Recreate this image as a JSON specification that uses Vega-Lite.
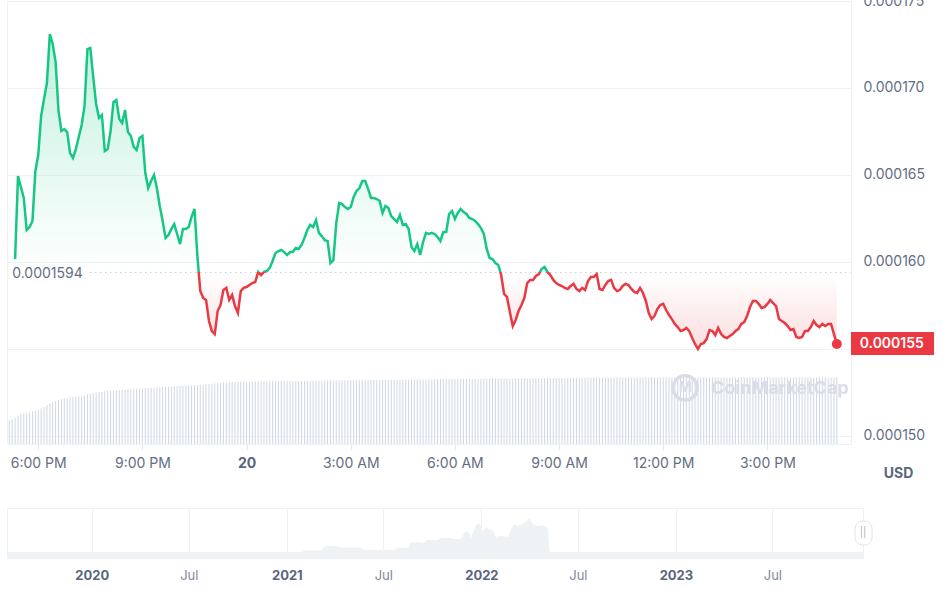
{
  "$schema": "https://vega.github.io/schema/vega-lite/v6.json",
  "background": "white",
  "padding": {"left": 6, "top": -7, "right": 0, "bottom": 0},
  "spacing": 64,
  "bounds": "flush",
  "config": {
    "font": "Inter",
    "view": {"stroke": "#eff2f5"},
    "axis": {"labelFont": "Inter", "titleFont": "Inter", "labelColor": "#616e85", "labelFontSize": 14, "gridColor": "#eff2f5"}
  },
  "datasets": {
    "price": [
      {"t":"2023-11-19T17:10:00Z","v":23.7},
      {"t":"2023-11-19T17:15:00Z","v":24.9},
      {"t":"2023-11-19T17:20:00Z","p":0.00016017,"v":26.2},
      {"t":"2023-11-19T17:25:00Z","p":0.00016494,"v":28.1},
      {"t":"2023-11-19T17:30:00Z","p":0.00016431,"v":30.0},
      {"t":"2023-11-19T17:35:00Z","p":0.00016368,"v":30.6},
      {"t":"2023-11-19T17:40:00Z","p":0.00016184,"v":31.1},
      {"t":"2023-11-19T17:45:00Z","p":0.00016201,"v":31.7},
      {"t":"2023-11-19T17:50:00Z","p":0.00016236,"v":32.5},
      {"t":"2023-11-19T17:55:00Z","p":0.00016523,"v":33.3},
      {"t":"2023-11-19T18:00:00Z","p":0.00016615,"v":34.3},
      {"t":"2023-11-19T18:05:00Z","p":0.00016839,"v":35.6},
      {"t":"2023-11-19T18:10:00Z","p":0.00016937,"v":36.9},
      {"t":"2023-11-19T18:15:00Z","p":0.00017029,"v":38.7},
      {"t":"2023-11-19T18:20:00Z","p":0.00017310,"v":40.6},
      {"t":"2023-11-19T18:25:00Z","p":0.00017253,"v":41.9},
      {"t":"2023-11-19T18:30:00Z","p":0.00017149,"v":42.9},
      {"t":"2023-11-19T18:35:00Z","p":0.00016868,"v":43.9},
      {"t":"2023-11-19T18:40:00Z","p":0.00016753,"v":44.8},
      {"t":"2023-11-19T18:45:00Z","p":0.00016764,"v":45.5},
      {"t":"2023-11-19T18:50:00Z","p":0.00016747,"v":46.1},
      {"t":"2023-11-19T18:55:00Z","p":0.00016626,"v":46.8},
      {"t":"2023-11-19T19:00:00Z","p":0.00016598,"v":47.2},
      {"t":"2023-11-19T19:05:00Z","p":0.00016649,"v":47.4},
      {"t":"2023-11-19T19:10:00Z","p":0.00016718,"v":47.6},
      {"t":"2023-11-19T19:15:00Z","p":0.00016787,"v":47.8},
      {"t":"2023-11-19T19:20:00Z","p":0.00016897,"v":48.3},
      {"t":"2023-11-19T19:25:00Z","p":0.00017224,"v":49.6},
      {"t":"2023-11-19T19:30:00Z","p":0.00017230,"v":50.5},
      {"t":"2023-11-19T19:35:00Z","p":0.00017063,"v":51.0},
      {"t":"2023-11-19T19:40:00Z","p":0.00016908,"v":51.5},
      {"t":"2023-11-19T19:45:00Z","p":0.00016828,"v":52.0},
      {"t":"2023-11-19T19:50:00Z","p":0.00016845,"v":52.4},
      {"t":"2023-11-19T19:55:00Z","p":0.00016638,"v":52.6},
      {"t":"2023-11-19T20:00:00Z","p":0.00016649,"v":52.9},
      {"t":"2023-11-19T20:05:00Z","p":0.00016753,"v":53.1},
      {"t":"2023-11-19T20:10:00Z","p":0.00016920,"v":53.3},
      {"t":"2023-11-19T20:15:00Z","p":0.00016931,"v":53.6},
      {"t":"2023-11-19T20:20:00Z","p":0.00016822,"v":53.8},
      {"t":"2023-11-19T20:25:00Z","p":0.00016799,"v":54.0},
      {"t":"2023-11-19T20:30:00Z","p":0.00016874,"v":54.1},
      {"t":"2023-11-19T20:35:00Z","p":0.00016747,"v":54.3},
      {"t":"2023-11-19T20:40:00Z","p":0.00016724,"v":54.5},
      {"t":"2023-11-19T20:45:00Z","p":0.00016661,"v":54.7},
      {"t":"2023-11-19T20:50:00Z","p":0.00016644,"v":54.9},
      {"t":"2023-11-19T20:55:00Z","p":0.00016713,"v":55.2},
      {"t":"2023-11-19T21:00:00Z","p":0.00016724,"v":55.5},
      {"t":"2023-11-19T21:05:00Z","p":0.00016511,"v":55.7},
      {"t":"2023-11-19T21:10:00Z","p":0.00016425,"v":56.0},
      {"t":"2023-11-19T21:15:00Z","p":0.00016466,"v":56.3},
      {"t":"2023-11-19T21:20:00Z","p":0.00016500,"v":56.5},
      {"t":"2023-11-19T21:25:00Z","p":0.00016425,"v":56.6},
      {"t":"2023-11-19T21:30:00Z","p":0.00016322,"v":56.8},
      {"t":"2023-11-19T21:35:00Z","p":0.00016236,"v":57.0},
      {"t":"2023-11-19T21:40:00Z","p":0.00016138,"v":57.2},
      {"t":"2023-11-19T21:45:00Z","p":0.00016155,"v":57.3},
      {"t":"2023-11-19T21:50:00Z","p":0.00016190,"v":57.5},
      {"t":"2023-11-19T21:55:00Z","p":0.00016218,"v":57.7},
      {"t":"2023-11-19T22:00:00Z","p":0.00016161,"v":57.9},
      {"t":"2023-11-19T22:05:00Z","p":0.00016103,"v":58.1},
      {"t":"2023-11-19T22:10:00Z","p":0.00016190,"v":58.2},
      {"t":"2023-11-19T22:15:00Z","p":0.00016190,"v":58.4},
      {"t":"2023-11-19T22:20:00Z","p":0.00016201,"v":58.5},
      {"t":"2023-11-19T22:25:00Z","p":0.00016259,"v":58.6},
      {"t":"2023-11-19T22:30:00Z","p":0.00016305,"v":58.7},
      {"t":"2023-11-19T22:35:00Z","p":0.00016034,"v":58.9},
      {"t":"2023-11-19T22:40:00Z","p":0.00015833,"v":59.0},
      {"t":"2023-11-19T22:45:00Z","p":0.00015793,"v":59.2},
      {"t":"2023-11-19T22:50:00Z","p":0.00015782,"v":59.5},
      {"t":"2023-11-19T22:55:00Z","p":0.00015661,"v":59.8},
      {"t":"2023-11-19T23:00:00Z","p":0.00015603,"v":60.1},
      {"t":"2023-11-19T23:05:00Z","p":0.00015586,"v":60.4},
      {"t":"2023-11-19T23:10:00Z","p":0.00015718,"v":60.6},
      {"t":"2023-11-19T23:15:00Z","p":0.00015753,"v":60.9},
      {"t":"2023-11-19T23:20:00Z","p":0.00015839,"v":61.1},
      {"t":"2023-11-19T23:25:00Z","p":0.00015851,"v":61.3},
      {"t":"2023-11-19T23:30:00Z","p":0.00015782,"v":61.6},
      {"t":"2023-11-19T23:35:00Z","p":0.00015810,"v":61.8},
      {"t":"2023-11-19T23:40:00Z","p":0.00015747,"v":62.0},
      {"t":"2023-11-19T23:45:00Z","p":0.00015707,"v":62.0},
      {"t":"2023-11-19T23:50:00Z","p":0.00015833,"v":62.1},
      {"t":"2023-11-19T23:55:00Z","p":0.00015851,"v":62.1},
      {"t":"2023-11-20T00:00:00Z","p":0.00015856,"v":62.1},
      {"t":"2023-11-20T00:05:00Z","p":0.00015868,"v":62.2},
      {"t":"2023-11-20T00:10:00Z","p":0.00015879,"v":62.2},
      {"t":"2023-11-20T00:15:00Z","p":0.00015885,"v":62.2},
      {"t":"2023-11-20T00:20:00Z","p":0.00015943,"v":62.2},
      {"t":"2023-11-20T00:25:00Z","p":0.00015925,"v":62.3},
      {"t":"2023-11-20T00:30:00Z","p":0.00015943,"v":62.3},
      {"t":"2023-11-20T00:35:00Z","p":0.00015948,"v":62.3},
      {"t":"2023-11-20T00:40:00Z","p":0.00015966,"v":62.5},
      {"t":"2023-11-20T00:45:00Z","p":0.00016006,"v":62.8},
      {"t":"2023-11-20T00:50:00Z","p":0.00016052,"v":63.0},
      {"t":"2023-11-20T00:55:00Z","p":0.00016063,"v":63.0},
      {"t":"2023-11-20T01:00:00Z","p":0.00016069,"v":63.0},
      {"t":"2023-11-20T01:05:00Z","p":0.00016057,"v":63.0},
      {"t":"2023-11-20T01:10:00Z","p":0.00016040,"v":63.0},
      {"t":"2023-11-20T01:15:00Z","p":0.00016057,"v":63.0},
      {"t":"2023-11-20T01:20:00Z","p":0.00016057,"v":63.0},
      {"t":"2023-11-20T01:25:00Z","p":0.00016080,"v":63.0},
      {"t":"2023-11-20T01:30:00Z","p":0.00016075,"v":63.0},
      {"t":"2023-11-20T01:35:00Z","p":0.00016098,"v":63.0},
      {"t":"2023-11-20T01:40:00Z","p":0.00016138,"v":63.0},
      {"t":"2023-11-20T01:45:00Z","p":0.00016184,"v":63.1},
      {"t":"2023-11-20T01:50:00Z","p":0.00016213,"v":63.1},
      {"t":"2023-11-20T01:55:00Z","p":0.00016201,"v":63.2},
      {"t":"2023-11-20T02:00:00Z","p":0.00016241,"v":63.2},
      {"t":"2023-11-20T02:05:00Z","p":0.00016167,"v":63.3},
      {"t":"2023-11-20T02:10:00Z","p":0.00016149,"v":63.3},
      {"t":"2023-11-20T02:15:00Z","p":0.00016126,"v":63.4},
      {"t":"2023-11-20T02:20:00Z","p":0.00016121,"v":63.4},
      {"t":"2023-11-20T02:25:00Z","p":0.00015994,"v":63.5},
      {"t":"2023-11-20T02:30:00Z","p":0.00016011,"v":63.5},
      {"t":"2023-11-20T02:35:00Z","p":0.00016224,"v":63.6},
      {"t":"2023-11-20T02:40:00Z","p":0.00016339,"v":63.6},
      {"t":"2023-11-20T02:45:00Z","p":0.00016333,"v":63.7},
      {"t":"2023-11-20T02:50:00Z","p":0.00016316,"v":63.7},
      {"t":"2023-11-20T02:55:00Z","p":0.00016305,"v":63.7},
      {"t":"2023-11-20T03:00:00Z","p":0.00016316,"v":63.8},
      {"t":"2023-11-20T03:05:00Z","p":0.00016374,"v":63.8},
      {"t":"2023-11-20T03:10:00Z","p":0.00016408,"v":63.9},
      {"t":"2023-11-20T03:15:00Z","p":0.00016425,"v":63.9},
      {"t":"2023-11-20T03:20:00Z","p":0.00016466,"v":63.9},
      {"t":"2023-11-20T03:25:00Z","p":0.00016466,"v":64.0},
      {"t":"2023-11-20T03:30:00Z","p":0.00016420,"v":64.0},
      {"t":"2023-11-20T03:35:00Z","p":0.00016368,"v":64.0},
      {"t":"2023-11-20T03:40:00Z","p":0.00016368,"v":64.1},
      {"t":"2023-11-20T03:45:00Z","p":0.00016362,"v":64.1},
      {"t":"2023-11-20T03:50:00Z","p":0.00016351,"v":64.1},
      {"t":"2023-11-20T03:55:00Z","p":0.00016282,"v":64.2},
      {"t":"2023-11-20T04:00:00Z","p":0.00016322,"v":64.2},
      {"t":"2023-11-20T04:05:00Z","p":0.00016310,"v":64.2},
      {"t":"2023-11-20T04:10:00Z","p":0.00016264,"v":64.2},
      {"t":"2023-11-20T04:15:00Z","p":0.00016247,"v":64.3},
      {"t":"2023-11-20T04:20:00Z","p":0.00016230,"v":64.3},
      {"t":"2023-11-20T04:25:00Z","p":0.00016270,"v":64.3},
      {"t":"2023-11-20T04:30:00Z","p":0.00016213,"v":64.3},
      {"t":"2023-11-20T04:35:00Z","p":0.00016218,"v":64.4},
      {"t":"2023-11-20T04:40:00Z","p":0.00016190,"v":64.4},
      {"t":"2023-11-20T04:45:00Z","p":0.00016086,"v":64.4},
      {"t":"2023-11-20T04:50:00Z","p":0.00016063,"v":64.5},
      {"t":"2023-11-20T04:55:00Z","p":0.00016103,"v":64.5},
      {"t":"2023-11-20T05:00:00Z","p":0.00016040,"v":64.5},
      {"t":"2023-11-20T05:05:00Z","p":0.00016115,"v":64.6},
      {"t":"2023-11-20T05:10:00Z","p":0.00016167,"v":64.6},
      {"t":"2023-11-20T05:15:00Z","p":0.00016161,"v":64.6},
      {"t":"2023-11-20T05:20:00Z","p":0.00016167,"v":64.7},
      {"t":"2023-11-20T05:25:00Z","p":0.00016161,"v":64.7},
      {"t":"2023-11-20T05:30:00Z","p":0.00016144,"v":64.7},
      {"t":"2023-11-20T05:35:00Z","p":0.00016121,"v":64.8},
      {"t":"2023-11-20T05:40:00Z","p":0.00016172,"v":64.8},
      {"t":"2023-11-20T05:45:00Z","p":0.00016172,"v":64.8},
      {"t":"2023-11-20T05:50:00Z","p":0.00016276,"v":64.9},
      {"t":"2023-11-20T05:55:00Z","p":0.00016293,"v":64.9},
      {"t":"2023-11-20T06:00:00Z","p":0.00016247,"v":64.9},
      {"t":"2023-11-20T06:05:00Z","p":0.00016282,"v":65.0},
      {"t":"2023-11-20T06:10:00Z","p":0.00016305,"v":65.0},
      {"t":"2023-11-20T06:15:00Z","p":0.00016287,"v":65.0},
      {"t":"2023-11-20T06:20:00Z","p":0.00016276,"v":65.1},
      {"t":"2023-11-20T06:25:00Z","p":0.00016253,"v":65.1},
      {"t":"2023-11-20T06:30:00Z","p":0.00016247,"v":65.1},
      {"t":"2023-11-20T06:35:00Z","p":0.00016236,"v":65.2},
      {"t":"2023-11-20T06:40:00Z","p":0.00016218,"v":65.2},
      {"t":"2023-11-20T06:45:00Z","p":0.00016195,"v":65.2},
      {"t":"2023-11-20T06:50:00Z","p":0.00016161,"v":65.3},
      {"t":"2023-11-20T06:55:00Z","p":0.00016075,"v":65.3},
      {"t":"2023-11-20T07:00:00Z","p":0.00016023,"v":65.3},
      {"t":"2023-11-20T07:05:00Z","p":0.00016017,"v":65.3},
      {"t":"2023-11-20T07:10:00Z","p":0.00015994,"v":65.4},
      {"t":"2023-11-20T07:15:00Z","p":0.00015983,"v":65.4},
      {"t":"2023-11-20T07:20:00Z","p":0.00015925,"v":65.4},
      {"t":"2023-11-20T07:25:00Z","p":0.00015816,"v":65.4},
      {"t":"2023-11-20T07:30:00Z","p":0.00015799,"v":65.5},
      {"t":"2023-11-20T07:35:00Z","p":0.00015713,"v":65.5},
      {"t":"2023-11-20T07:40:00Z","p":0.00015632,"v":65.5},
      {"t":"2023-11-20T07:45:00Z","p":0.00015667,"v":65.6},
      {"t":"2023-11-20T07:50:00Z","p":0.00015718,"v":65.6},
      {"t":"2023-11-20T07:55:00Z","p":0.00015753,"v":65.6},
      {"t":"2023-11-20T08:00:00Z","p":0.00015793,"v":65.7},
      {"t":"2023-11-20T08:05:00Z","p":0.00015879,"v":65.7},
      {"t":"2023-11-20T08:10:00Z","p":0.00015897,"v":65.7},
      {"t":"2023-11-20T08:15:00Z","p":0.00015897,"v":65.8},
      {"t":"2023-11-20T08:20:00Z","p":0.00015920,"v":65.8},
      {"t":"2023-11-20T08:25:00Z","p":0.00015931,"v":65.8},
      {"t":"2023-11-20T08:30:00Z","p":0.00015960,"v":65.9},
      {"t":"2023-11-20T08:35:00Z","p":0.00015971,"v":65.9},
      {"t":"2023-11-20T08:40:00Z","p":0.00015943,"v":65.9},
      {"t":"2023-11-20T08:45:00Z","p":0.00015925,"v":66.0},
      {"t":"2023-11-20T08:50:00Z","p":0.00015897,"v":66.0},
      {"t":"2023-11-20T08:55:00Z","p":0.00015879,"v":66.0},
      {"t":"2023-11-20T09:00:00Z","p":0.00015868,"v":66.1},
      {"t":"2023-11-20T09:05:00Z","p":0.00015862,"v":66.1},
      {"t":"2023-11-20T09:10:00Z","p":0.00015851,"v":66.1},
      {"t":"2023-11-20T09:15:00Z","p":0.00015845,"v":66.2},
      {"t":"2023-11-20T09:20:00Z","p":0.00015862,"v":66.2},
      {"t":"2023-11-20T09:25:00Z","p":0.00015874,"v":66.2},
      {"t":"2023-11-20T09:30:00Z","p":0.00015845,"v":66.3},
      {"t":"2023-11-20T09:35:00Z","p":0.00015833,"v":66.3},
      {"t":"2023-11-20T09:40:00Z","p":0.00015851,"v":66.3},
      {"t":"2023-11-20T09:45:00Z","p":0.00015839,"v":66.3},
      {"t":"2023-11-20T09:50:00Z","p":0.00015891,"v":66.4},
      {"t":"2023-11-20T09:55:00Z","p":0.00015914,"v":66.4},
      {"t":"2023-11-20T10:00:00Z","p":0.00015914,"v":66.4},
      {"t":"2023-11-20T10:05:00Z","p":0.00015931,"v":66.4},
      {"t":"2023-11-20T10:10:00Z","p":0.00015845,"v":66.4},
      {"t":"2023-11-20T10:15:00Z","p":0.00015839,"v":66.4},
      {"t":"2023-11-20T10:20:00Z","p":0.00015868,"v":66.5},
      {"t":"2023-11-20T10:25:00Z","p":0.00015891,"v":66.5},
      {"t":"2023-11-20T10:30:00Z","p":0.00015897,"v":66.5},
      {"t":"2023-11-20T10:35:00Z","p":0.00015851,"v":66.5},
      {"t":"2023-11-20T10:40:00Z","p":0.00015833,"v":66.5},
      {"t":"2023-11-20T10:45:00Z","p":0.00015839,"v":66.5},
      {"t":"2023-11-20T10:50:00Z","p":0.00015862,"v":66.5},
      {"t":"2023-11-20T10:55:00Z","p":0.00015874,"v":66.6},
      {"t":"2023-11-20T11:00:00Z","p":0.00015868,"v":66.6},
      {"t":"2023-11-20T11:05:00Z","p":0.00015845,"v":66.6},
      {"t":"2023-11-20T11:10:00Z","p":0.00015828,"v":66.6},
      {"t":"2023-11-20T11:15:00Z","p":0.00015822,"v":66.6},
      {"t":"2023-11-20T11:20:00Z","p":0.00015851,"v":66.6},
      {"t":"2023-11-20T11:25:00Z","p":0.00015822,"v":66.6},
      {"t":"2023-11-20T11:30:00Z","p":0.00015776,"v":66.6},
      {"t":"2023-11-20T11:35:00Z","p":0.00015707,"v":66.6},
      {"t":"2023-11-20T11:40:00Z","p":0.00015672,"v":66.6},
      {"t":"2023-11-20T11:45:00Z","p":0.00015690,"v":66.6},
      {"t":"2023-11-20T11:50:00Z","p":0.00015730,"v":66.6},
      {"t":"2023-11-20T11:55:00Z","p":0.00015753,"v":66.6},
      {"t":"2023-11-20T12:00:00Z","p":0.00015759,"v":66.6},
      {"t":"2023-11-20T12:05:00Z","p":0.00015724,"v":66.6},
      {"t":"2023-11-20T12:10:00Z","p":0.00015695,"v":66.6},
      {"t":"2023-11-20T12:15:00Z","p":0.00015672,"v":66.6},
      {"t":"2023-11-20T12:20:00Z","p":0.00015644,"v":66.6},
      {"t":"2023-11-20T12:25:00Z","p":0.00015626,"v":66.6},
      {"t":"2023-11-20T12:30:00Z","p":0.00015603,"v":66.6},
      {"t":"2023-11-20T12:35:00Z","p":0.00015609,"v":66.6},
      {"t":"2023-11-20T12:40:00Z","p":0.00015621,"v":66.6},
      {"t":"2023-11-20T12:45:00Z","p":0.00015603,"v":66.6},
      {"t":"2023-11-20T12:50:00Z","p":0.00015563,"v":66.6},
      {"t":"2023-11-20T12:55:00Z","p":0.00015529,"v":66.6},
      {"t":"2023-11-20T13:00:00Z","p":0.00015500,"v":66.6},
      {"t":"2023-11-20T13:05:00Z","p":0.00015529,"v":66.6},
      {"t":"2023-11-20T13:10:00Z","p":0.00015534,"v":66.6},
      {"t":"2023-11-20T13:15:00Z","p":0.00015557,"v":66.6},
      {"t":"2023-11-20T13:20:00Z","p":0.00015609,"v":66.6},
      {"t":"2023-11-20T13:25:00Z","p":0.00015603,"v":66.6},
      {"t":"2023-11-20T13:30:00Z","p":0.00015580,"v":66.6},
      {"t":"2023-11-20T13:35:00Z","p":0.00015621,"v":66.6},
      {"t":"2023-11-20T13:40:00Z","p":0.00015586,"v":66.6},
      {"t":"2023-11-20T13:45:00Z","p":0.00015569,"v":66.6},
      {"t":"2023-11-20T13:50:00Z","p":0.00015563,"v":66.6},
      {"t":"2023-11-20T13:55:00Z","p":0.00015575,"v":66.6},
      {"t":"2023-11-20T14:00:00Z","p":0.00015586,"v":66.6},
      {"t":"2023-11-20T14:05:00Z","p":0.00015603,"v":66.6},
      {"t":"2023-11-20T14:10:00Z","p":0.00015615,"v":66.6},
      {"t":"2023-11-20T14:15:00Z","p":0.00015644,"v":66.6},
      {"t":"2023-11-20T14:20:00Z","p":0.00015655,"v":66.6},
      {"t":"2023-11-20T14:25:00Z","p":0.00015690,"v":66.6},
      {"t":"2023-11-20T14:30:00Z","p":0.00015741,"v":66.6},
      {"t":"2023-11-20T14:35:00Z","p":0.00015776,"v":66.6},
      {"t":"2023-11-20T14:40:00Z","p":0.00015776,"v":66.6},
      {"t":"2023-11-20T14:45:00Z","p":0.00015759,"v":66.6},
      {"t":"2023-11-20T14:50:00Z","p":0.00015736,"v":66.6},
      {"t":"2023-11-20T14:55:00Z","p":0.00015741,"v":66.6},
      {"t":"2023-11-20T15:00:00Z","p":0.00015759,"v":66.6},
      {"t":"2023-11-20T15:05:00Z","p":0.00015782,"v":66.6},
      {"t":"2023-11-20T15:10:00Z","p":0.00015764,"v":66.6},
      {"t":"2023-11-20T15:15:00Z","p":0.00015747,"v":66.6},
      {"t":"2023-11-20T15:20:00Z","p":0.00015672,"v":66.6},
      {"t":"2023-11-20T15:25:00Z","p":0.00015661,"v":66.6},
      {"t":"2023-11-20T15:30:00Z","p":0.00015649,"v":66.6},
      {"t":"2023-11-20T15:35:00Z","p":0.00015632,"v":66.6},
      {"t":"2023-11-20T15:40:00Z","p":0.00015609,"v":66.6},
      {"t":"2023-11-20T15:45:00Z","p":0.00015615,"v":66.6},
      {"t":"2023-11-20T15:50:00Z","p":0.00015569,"v":66.6},
      {"t":"2023-11-20T15:55:00Z","p":0.00015563,"v":66.6},
      {"t":"2023-11-20T16:00:00Z","p":0.00015569,"v":66.6},
      {"t":"2023-11-20T16:05:00Z","p":0.00015603,"v":66.6},
      {"t":"2023-11-20T16:10:00Z","p":0.00015603,"v":66.6},
      {"t":"2023-11-20T16:15:00Z","p":0.00015626,"v":66.6},
      {"t":"2023-11-20T16:20:00Z","p":0.00015661,"v":66.6},
      {"t":"2023-11-20T16:25:00Z","p":0.00015638,"v":66.6},
      {"t":"2023-11-20T16:30:00Z","p":0.00015626,"v":66.6},
      {"t":"2023-11-20T16:35:00Z","p":0.00015644,"v":66.6},
      {"t":"2023-11-20T16:40:00Z","p":0.00015632,"v":66.6},
      {"t":"2023-11-20T16:45:00Z","p":0.00015644,"v":66.6},
      {"t":"2023-11-20T16:50:00Z","p":0.00015644,"v":66.6},
      {"t":"2023-11-20T16:55:00Z","p":0.00015586,"v":66.6},
      {"t":"2023-11-20T17:00:00Z","p":0.00015529,"v":66.6}
    ],
    "nav": [
      {"d":"2019-07-26","v":0.000155},
      {"d":"2019-11-01","v":0.000155},
      {"d":"2020-04-01","v":0.000155},
      {"d":"2020-09-01","v":0.000155},
      {"d":"2021-01-29","v":0.000155},
      {"d":"2021-02-03","v":0.000199},
      {"d":"2021-03-07","v":0.000199},
      {"d":"2021-03-13","v":0.000302},
      {"d":"2021-03-25","v":0.00031},
      {"d":"2021-04-08","v":0.000302},
      {"d":"2021-04-14","v":0.000266},
      {"d":"2021-05-01","v":0.000273},
      {"d":"2021-05-21","v":0.000266},
      {"d":"2021-05-25","v":0.000206},
      {"d":"2021-06-20","v":0.000199},
      {"d":"2021-07-22","v":0.000206},
      {"d":"2021-07-30","v":0.000266},
      {"d":"2021-08-17","v":0.000266},
      {"d":"2021-08-20","v":0.000395},
      {"d":"2021-09-01","v":0.000413},
      {"d":"2021-09-16","v":0.000395},
      {"d":"2021-09-22","v":0.000464},
      {"d":"2021-10-12","v":0.000464},
      {"d":"2021-10-16","v":0.000516},
      {"d":"2021-11-05","v":0.000516},
      {"d":"2021-11-10","v":0.00049},
      {"d":"2021-11-24","v":0.00049},
      {"d":"2021-11-30","v":0.000653},
      {"d":"2021-12-07","v":0.000697},
      {"d":"2021-12-13","v":0.000524},
      {"d":"2021-12-22","v":0.000851},
      {"d":"2021-12-29","v":0.000885},
      {"d":"2022-01-04","v":0.000697},
      {"d":"2022-01-10","v":0.0008},
      {"d":"2022-01-16","v":0.00074},
      {"d":"2022-01-23","v":0.000697},
      {"d":"2022-01-29","v":0.000542},
      {"d":"2022-02-05","v":0.00058},
      {"d":"2022-02-11","v":0.000568},
      {"d":"2022-02-20","v":0.000542},
      {"d":"2022-02-26","v":0.000782},
      {"d":"2022-03-04","v":0.000869},
      {"d":"2022-03-10","v":0.000826},
      {"d":"2022-03-17","v":0.000851},
      {"d":"2022-03-26","v":0.000937},
      {"d":"2022-04-01","v":0.001024},
      {"d":"2022-04-08","v":0.000869},
      {"d":"2022-04-17","v":0.000826},
      {"d":"2022-04-27","v":0.000851},
      {"d":"2022-05-06","v":0.000766},
      {"d":"2022-05-09","v":0.000181},
      {"d":"2022-05-11","v":0.000155},
      {"d":"2022-10-01","v":0.000155},
      {"d":"2023-04-01","v":0.000155},
      {"d":"2023-09-01","v":0.000155},
      {"d":"2023-12-18","v":0.000155}
    ]
  },
  "vconcat": [
    {
      "width": 844,
      "height": 443,
      "data": {"name": "price"},
      "resolve": {"scale": {"y": "independent"}},
      "layer": [
        {
          "mark": {"type": "rule", "color": "#cfd6e4", "strokeWidth": 1},
          "encoding": {
            "x": {
              "field": "t",
              "type": "temporal",
              "scale": {
                "type": "utc",
                "domain": [
                  {"year": 2023, "month": 11, "date": 19, "hours": 17, "minutes": 6, "utc": true},
                  {"year": 2023, "month": 11, "date": 20, "hours": 17, "minutes": 24, "seconds": 30, "utc": true}
                ]
              },
              "axis": {
                "title": null,
                "values": [
                  {"year": 2023, "month": 11, "date": 19, "hours": 18, "utc": true},
                  {"year": 2023, "month": 11, "date": 19, "hours": 21, "utc": true},
                  {"year": 2023, "month": 11, "date": 20, "hours": 0, "utc": true},
                  {"year": 2023, "month": 11, "date": 20, "hours": 3, "utc": true},
                  {"year": 2023, "month": 11, "date": 20, "hours": 6, "utc": true},
                  {"year": 2023, "month": 11, "date": 20, "hours": 9, "utc": true},
                  {"year": 2023, "month": 11, "date": 20, "hours": 12, "utc": true},
                  {"year": 2023, "month": 11, "date": 20, "hours": 15, "utc": true}
                ],
                "labelExpr": "utchours(datum.value) == 0 ? utcFormat(datum.value, '%-d') : utcFormat(datum.value, '%-I:%M %p')",
                "labelFontWeight": {"condition": {"test": "utchours(datum.value) == 0", "value": "bold"}, "value": "normal"},
                "labelColor": {"condition": {"test": "utchours(datum.value) == 0", "value": "#58667e"}, "value": "#616e85"},
                "grid": false,
                "domain": false,
                "ticks": true,
                "tickSize": 6,
                "tickColor": "#e5e8ec",
                "labelPadding": 6
              }
            },
            "y": {"field": "v", "type": "quantitative", "scale": {"domain": [0, 443], "nice": false}, "axis": null},
            "y2": {"datum": 0}
          }
        },
        {
          "layer": [
            {
              "mark": {
                "type": "area",
                "fill": {
                  "gradient": "linear", "x1": 0, "y1": 0, "x2": 0, "y2": 1,
                  "stops": [
                    {"offset": 0, "color": "rgba(22,199,132,0.26)"},
                    {"offset": 0.7569, "color": "rgba(22,199,132,0.0)"},
                    {"offset": 0.7569, "color": "rgba(234,57,67,0.0)"},
                    {"offset": 1, "color": "rgba(234,57,67,0.17)"}
                  ]
                }
              },
              "encoding": {
                "x": {"field": "t", "type": "temporal"},
                "y": {
                  "field": "p",
                  "type": "quantitative",
                  "scale": {"domain": [0.00014954, 0.000175], "nice": false, "zero": false},
                  "axis": {
                    "orient": "right",
                    "values": [0.00015, 0.000155, 0.00016, 0.000165, 0.00017, 0.000175],
                    "format": ".6f",
                    "ticks": false,
                    "domain": false,
                    "grid": true,
                    "gridColor": "#eff2f5",
                    "labelPadding": 12,
                    "title": "USD",
                    "titleAngle": 0,
                    "titleX": 47,
                    "titleY": 472,
                    "titleAlign": "center",
                    "titleBaseline": "middle",
                    "titleFontSize": 14,
                    "titleFontWeight": "bold",
                    "titleColor": "#58667e"
                  }
                },
                "y2": {"datum": 0.0001594}
              }
            },
            {
              "data": {"values": [{}]},
              "mark": {"type": "rule", "color": "#a6b0c3", "strokeDash": [1, 4], "strokeWidth": 1},
              "encoding": {
                "x": {"datum": {"year": 2023, "month": 11, "date": 19, "hours": 19, "minutes": 30, "utc": true}, "type": "temporal"},
                "x2": {"datum": {"year": 2023, "month": 11, "date": 20, "hours": 17, "minutes": 24, "utc": true}},
                "y": {"datum": 0.0001594, "type": "quantitative"}
              }
            },
            {
              "data": {"values": [{}]},
              "mark": {"type": "text", "align": "left", "baseline": "middle", "dy": 2, "fontSize": 14, "color": "#616e85"},
              "encoding": {
                "x": {"datum": {"year": 2023, "month": 11, "date": 19, "hours": 17, "minutes": 15, "utc": true}, "type": "temporal"},
                "y": {"datum": 0.0001594, "type": "quantitative"},
                "text": {"value": "0.0001594"}
              }
            },
            {
              "mark": {
                "type": "line",
                "strokeWidth": 2.5,
                "stroke": {
                  "gradient": "linear", "x1": 0, "y1": 0, "x2": 0, "y2": 1,
                  "stops": [
                    {"offset": 0, "color": "#16c784"},
                    {"offset": 0.7569, "color": "#16c784"},
                    {"offset": 0.7569, "color": "#ea3943"},
                    {"offset": 1, "color": "#ea3943"}
                  ]
                }
              },
              "encoding": {
                "x": {"field": "t", "type": "temporal"},
                "y": {"field": "p", "type": "quantitative"}
              }
            },
            {
              "data": {"values": [{}]},
              "mark": {"type": "point", "shape": "circle", "filled": true, "color": "#ea3943", "opacity": 1, "size": 100},
              "encoding": {
                "x": {"datum": {"year": 2023, "month": 11, "date": 20, "hours": 17, "utc": true}, "type": "temporal"},
                "y": {"datum": 0.00015529, "type": "quantitative"}
              }
            },
            {
              "data": {"values": [{}]},
              "mark": {"type": "rect", "color": "#ea3943"},
              "encoding": {
                "x": {"datum": {"year": 2023, "month": 11, "date": 20, "hours": 17, "minutes": 24, "seconds": 30, "utc": true}, "type": "temporal"},
                "x2": {"datum": {"year": 2023, "month": 11, "date": 20, "hours": 19, "minutes": 48, "utc": true}},
                "y": {"datum": 0.00015598, "type": "quantitative"},
                "y2": {"datum": 0.00015466}
              }
            },
            {
              "data": {"values": [{}]},
              "mark": {"type": "text", "align": "center", "baseline": "middle", "fontSize": 14, "fontWeight": 600, "color": "white"},
              "encoding": {
                "x": {"datum": {"year": 2023, "month": 11, "date": 20, "hours": 18, "minutes": 35, "utc": true}, "type": "temporal"},
                "y": {"datum": 0.0001553, "type": "quantitative"},
                "text": {"value": "0.000155"}
              }
            },
            {
              "data": {"values": [{}]},
              "mark": {"type": "point", "shape": "circle", "filled": false, "stroke": "#d9dee6", "strokeWidth": 3.5, "opacity": 1, "size": 590},
              "encoding": {
                "x": {"datum": {"year": 2023, "month": 11, "date": 20, "hours": 12, "minutes": 38, "utc": true}, "type": "temporal"},
                "y": {"datum": 0.00015276, "type": "quantitative"}
              }
            },
            {
              "data": {"values": [{}]},
              "mark": {"type": "text", "align": "center", "baseline": "middle", "fontSize": 14, "fontWeight": "bold", "color": "#d9dee6"},
              "encoding": {
                "x": {"datum": {"year": 2023, "month": 11, "date": 20, "hours": 12, "minutes": 38, "utc": true}, "type": "temporal"},
                "y": {"datum": 0.00015276, "type": "quantitative"},
                "text": {"value": "M"}
              }
            },
            {
              "data": {"values": [{}]},
              "mark": {"type": "text", "align": "left", "baseline": "middle", "fontSize": 18, "fontWeight": "bold", "color": "#d9dee6"},
              "encoding": {
                "x": {"datum": {"year": 2023, "month": 11, "date": 20, "hours": 13, "minutes": 22, "seconds": 30, "utc": true}, "type": "temporal"},
                "y": {"datum": 0.0001527, "type": "quantitative"},
                "text": {"value": "CoinMarketCap"}
              }
            }
          ]
        }
      ]
    },
    {
      "width": 856,
      "height": 50,
      "data": {"name": "nav"},
      "layer": [
        {
          "mark": {"type": "area", "color": "#eff2f5", "opacity": 1},
          "encoding": {
            "x": {
              "field": "d",
              "type": "temporal",
              "scale": {
                "type": "utc",
                "domain": [
                  {"year": 2019, "month": 7, "date": 26, "utc": true},
                  {"year": 2023, "month": 12, "date": 18, "utc": true}
                ]
              },
              "axis": {
                "title": null,
                "values": [
                  {"year": 2020, "month": 1, "date": 1, "utc": true},
                  {"year": 2020, "month": 7, "date": 1, "utc": true},
                  {"year": 2021, "month": 1, "date": 1, "utc": true},
                  {"year": 2021, "month": 7, "date": 1, "utc": true},
                  {"year": 2022, "month": 1, "date": 1, "utc": true},
                  {"year": 2022, "month": 7, "date": 1, "utc": true},
                  {"year": 2023, "month": 1, "date": 1, "utc": true},
                  {"year": 2023, "month": 7, "date": 1, "utc": true}
                ],
                "labelExpr": "utcmonth(datum.value) == 0 ? utcFormat(datum.value, '%Y') : utcFormat(datum.value, '%b')",
                "labelFontSize": 13,
                "labelFontWeight": {"condition": {"test": "utcmonth(datum.value) == 0", "value": "bold"}, "value": "normal"},
                "labelColor": {"condition": {"test": "utcmonth(datum.value) == 0", "value": "#58667e"}, "value": "#808a9d"},
                "grid": true,
                "gridColor": "#eff2f5",
                "ticks": false,
                "domain": false,
                "labelPadding": 11
              }
            },
            "y": {"field": "v", "type": "quantitative", "scale": {"domain": [0, 0.00129], "nice": false}, "axis": null}
          }
        },
        {
          "data": {"values": [{}]},
          "mark": {"type": "rect", "fill": "white", "stroke": "#dfe3ea", "strokeWidth": 1, "cornerRadius": 8},
          "encoding": {
            "x": {"datum": {"year": 2023, "month": 12, "date": 3, "utc": true}, "type": "temporal"},
            "x2": {"datum": {"year": 2024, "month": 1, "date": 4, "utc": true}},
            "y": {"datum": 0.000955, "type": "quantitative"},
            "y2": {"datum": 0.000335}
          }
        },
        {
          "data": {"values": [{}]},
          "mark": {"type": "text", "align": "center", "baseline": "middle", "fontSize": 10, "color": "#a6b0c3"},
          "encoding": {
            "x": {"datum": {"year": 2023, "month": 12, "date": 18, "utc": true}, "type": "temporal"},
            "y": {"datum": 0.000645, "type": "quantitative"},
            "text": {"value": "||"}
          }
        }
      ]
    }
  ]
}
